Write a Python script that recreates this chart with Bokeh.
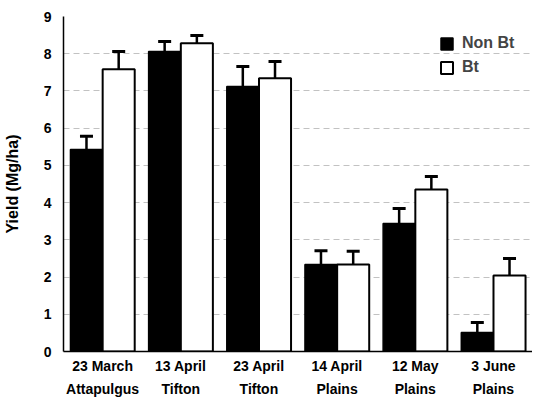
from bokeh.plotting import figure
from bokeh.models import (ColumnDataSource, FactorRange, Range1d, Whisker, TeeHead,
                          Legend, LegendItem)
from bokeh.transform import dodge
from bokeh.embed import file_html
from bokeh.resources import INLINE

dates = ["23 March", "13 April", "23 April", "14 April", "12 May", "3 June"]
locations = ["Attapulgus", "Tifton", "Tifton", "Plains", "Plains", "Plains"]
non_bt = [5.43, 8.06, 7.12, 2.34, 3.44, 0.51]
non_bt_se = [0.35, 0.27, 0.54, 0.37, 0.40, 0.27]
bt = [7.58, 8.28, 7.34, 2.34, 4.35, 2.04]
bt_se = [0.48, 0.21, 0.45, 0.35, 0.35, 0.46]
y_ticks = [0, 1, 2, 3, 4, 5, 6, 7, 8, 9]

factors = [f"{d}\n{l}" for d, l in zip(dates, locations)]
src = ColumnDataSource(dict(
    x=factors, nb=non_bt, bt=bt,
    nb_hi=[v + e for v, e in zip(non_bt, non_bt_se)],
    bt_hi=[v + e for v, e in zip(bt, bt_se)],
))

FONT = "Liberation Sans"

p = figure(x_range=FactorRange(factors=factors, range_padding=0), y_range=Range1d(0, 9),
           width=532, height=399, output_backend="svg", toolbar_location=None,
           min_border_left=55, min_border_right=0, min_border_top=16, min_border_bottom=47)
p.outline_line_color = None
p.background_fill_color = "white"
p.border_fill_color = "white"
p.xgrid.grid_line_color = None
p.ygrid.grid_line_color = "#999999"
p.ygrid.grid_line_dash = "6 4"
p.ygrid.grid_line_alpha = 0.6
p.ygrid.ticker = y_ticks

off = 0.206
w = 0.41
r_nb = p.vbar(x=dodge("x", -off, range=p.x_range), top="nb", width=w, source=src,
              fill_color="black", line_color="black", line_width=1.5)
r_bt = p.vbar(x=dodge("x", off, range=p.x_range), top="bt", width=w, source=src,
              fill_color="white", line_color="black", line_width=2)

for pos, lo, hi in [(-off, "nb", "nb_hi"), (off, "bt", "bt_hi")]:
    wk = Whisker(source=src, base=dodge("x", pos, range=p.x_range), lower=lo, upper=hi,
                 dimension="height", line_width=2.5, line_color="black",
                 upper_head=TeeHead(size=13, line_width=3, line_color="black"),
                 lower_head=None)
    p.add_layout(wk)

ax1 = p.xaxis[0]
ax1.major_tick_line_color = None
ax1.major_tick_out = 0
ax1.major_tick_in = 0
ax1.axis_line_width = 1.5
ax1.major_label_standoff = 6
ax1.major_label_text_font = FONT
ax1.major_label_text_font_style = "bold"
ax1.major_label_text_font_size = "14px"
ax1.major_label_text_line_height = 1.45
ax1.major_label_text_color = "black"

ya = p.yaxis[0]
ya.ticker = y_ticks
ya.major_tick_line_color = None
ya.minor_tick_line_color = None
ya.major_tick_out = 0
ya.major_tick_in = 0
ya.axis_line_width = 1.5
ya.major_label_standoff = 12
ya.major_label_text_font = FONT
ya.major_label_text_font_style = "bold"
ya.major_label_text_font_size = "14px"
ya.major_label_text_color = "black"
ya.axis_label = "Yield (Mg/ha)"
ya.axis_label_text_font = FONT
ya.axis_label_text_font_style = "bold"
ya.axis_label_text_font_size = "16px"
ya.axis_label_standoff = 20
ya.axis_label_text_color = "black"

legend = Legend(items=[LegendItem(label="Non Bt", renderers=[r_nb]),
                       LegendItem(label="Bt", renderers=[r_bt])],
                location=(376, 275), border_line_color=None, background_fill_alpha=0,
                margin=0, padding=5, spacing=6, glyph_width=15, glyph_height=15,
                label_height=15, label_standoff=8,
                label_text_font=FONT, label_text_font_style="bold",
                label_text_font_size="16px")
p.add_layout(legend)

open("out.html", "w").write(file_html(p, INLINE))
